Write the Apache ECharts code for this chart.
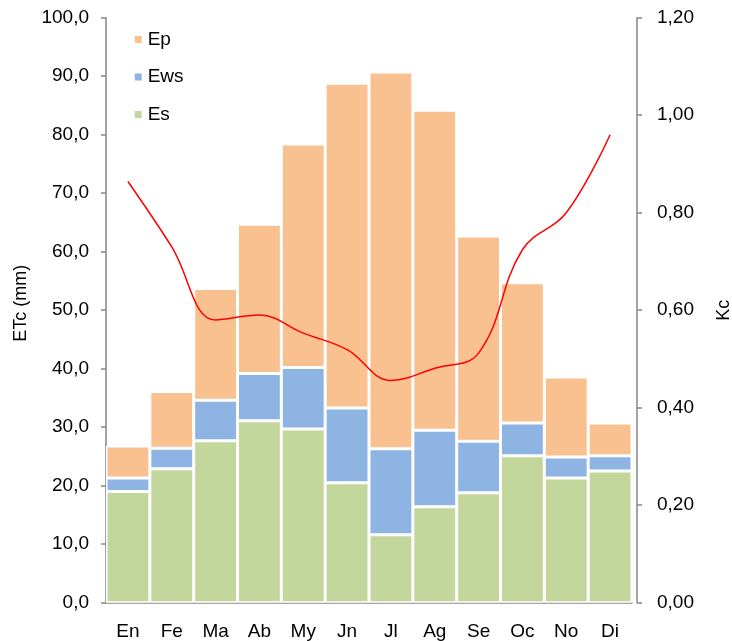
<!DOCTYPE html>
<html>
<head>
<meta charset="utf-8">
<script src="https://cdn.jsdelivr.net/npm/echarts@6/dist/echarts.min.js"></script>
<style>
  html, body { margin: 0; padding: 0; background: #fff; }
  #chart { width: 732px; height: 641px; }
</style>
</head>
<body>
<div id="chart"></div>
<script>
// Monthly crop evapotranspiration components (mm) and crop coefficient
const months = ['En', 'Fe', 'Ma', 'Ab', 'My', 'Jn', 'Jl', 'Ag', 'Se', 'Oc', 'No', 'Di'];
const esValues  = [19.0, 22.9, 27.7, 31.1, 29.7, 20.5, 11.6, 16.4, 18.8, 25.1, 21.3, 22.5];
const ewsValues = [2.3, 3.5, 6.9, 8.1, 10.5, 12.8, 14.7, 13.1, 8.8, 5.6, 3.6, 2.6];
const epValues  = [5.5, 9.7, 19.1, 25.5, 38.2, 55.5, 64.4, 54.7, 35.1, 24.0, 13.7, 5.6];
const kcValues  = [0.864, 0.73, 0.58, 0.59, 0.553, 0.519, 0.456, 0.481, 0.512, 0.724, 0.80, 0.96];

const FONT = 'Liberation Sans, Arial, sans-serif';
const AXIS_GREY = '#868686';

const chart = echarts.init(document.getElementById('chart'), null, { renderer: 'canvas' });

const barStyle = (color) => ({ color: color, borderColor: '#ffffff', borderWidth: 1.5 });

chart.setOption({
  animation: false,
  textStyle: { fontFamily: FONT, color: '#000' },
  grid: {
    left: 106, right: 100, top: 17.7, bottom: 38.3,
    containLabel: false, outerBoundsMode: 'none'
  },
  legend: {
    orient: 'vertical',
    left: 132.7,
    top: 30,
    padding: 0,
    itemWidth: 9,
    itemHeight: 9,
    itemGap: 18.5,
    icon: 'rect',
    textStyle: { fontFamily: FONT, fontSize: 19, color: '#000' },
    data: ['Ep', 'Ews', 'Es']
  },
  xAxis: {
    type: 'category',
    data: months,
    axisLine: { lineStyle: { color: AXIS_GREY, width: 1.5 } },
    axisTick: { show: false },
    axisLabel: { fontFamily: FONT, fontSize: 19, color: '#000', margin: 20 }
  },
  yAxis: [
    {
      type: 'value',
      min: 0, max: 100, interval: 10,
      name: 'ETc (mm)',
      nameLocation: 'middle',
      nameRotate: 90,
      nameGap: 76,
      nameTextStyle: { fontFamily: FONT, fontSize: 18, color: '#000', padding: [0, 0, 0, 14] },
      axisLine: { show: true, lineStyle: { color: AXIS_GREY, width: 1.5 } },
      axisTick: { show: true, length: 5, lineStyle: { color: AXIS_GREY, width: 1.5 } },
      splitLine: { show: false },
      axisLabel: {
        fontFamily: FONT, fontSize: 19, color: '#000', margin: 17,
        formatter: (v) => v.toFixed(1).replace('.', ',')
      }
    },
    {
      type: 'value',
      min: 0, max: 1.2, interval: 0.2,
      position: 'right',
      offset: 5,
      name: 'Kc',
      nameLocation: 'middle',
      nameRotate: 90,
      nameGap: 78,
      nameTextStyle: { fontFamily: FONT, fontSize: 18, color: '#000' },
      axisLine: { show: true, lineStyle: { color: AXIS_GREY, width: 1.5 } },
      axisTick: { show: true, length: 5, lineStyle: { color: AXIS_GREY, width: 1.5 } },
      splitLine: { show: false },
      axisLabel: {
        fontFamily: FONT, fontSize: 19, color: '#000', margin: 20,
        formatter: (v) => v.toFixed(2).replace('.', ',')
      }
    }
  ],
  series: [
    {
      name: 'Es', type: 'bar', stack: 'etc', barCategoryGap: '0%',
      itemStyle: barStyle('#c3d69b'), data: esValues
    },
    {
      name: 'Ews', type: 'bar', stack: 'etc', barCategoryGap: '0%',
      itemStyle: barStyle('#8eb4e3'), data: ewsValues
    },
    {
      name: 'Ep', type: 'bar', stack: 'etc', barCategoryGap: '0%',
      itemStyle: barStyle('#f9c090'), data: epValues
    },
    {
      name: 'Kc', type: 'line', yAxisIndex: 1, smooth: 0.4,
      showSymbol: false, symbol: 'none',
      lineStyle: { color: '#ff0000', width: 1.5 },
      itemStyle: { color: '#ff0000' },
      data: kcValues,
      z: 5
    }
  ]
});
</script>
</body>
</html>
